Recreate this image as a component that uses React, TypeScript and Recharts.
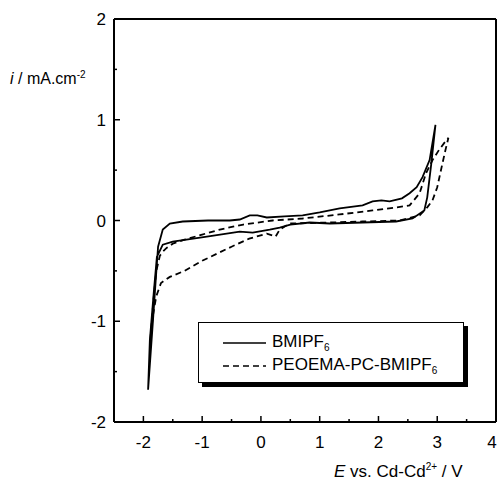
import React from "react";
import { LineChart, Line, XAxis, YAxis, Legend } from "recharts";

// E vs. Cd-Cd2+ (V) and current density (mA/cm2), in scan order
const bmiE = [
  -1.92, -1.84, -1.79, -1.75, -1.67, -1.55, -1.33, -0.9, -0.53, -0.36, -0.19,
  -0.06, 0.1, 0.4, 0.71, 1.0, 1.34, 1.73, 1.9, 2.05, 2.19, 2.4, 2.53, 2.65,
  2.75, 2.87, 2.97, 2.9, 2.83, 2.78, 2.58, 2.3, 1.73, 1.17, 0.83, 0.5, 0.32,
  0.15, -0.14, -0.36, -0.92, -1.5, -1.67, -1.77, -1.82, -1.89, -1.92,
];
const bmiI = [
  -1.68, -1.02, -0.59, -0.26, -0.09, -0.03, -0.01, 0.0, 0.0, 0.01, 0.05, 0.05,
  0.03, 0.04, 0.05, 0.08, 0.12, 0.15, 0.19, 0.2, 0.19, 0.22, 0.27, 0.33, 0.43,
  0.6, 0.95, 0.57, 0.23, 0.1, 0.02, -0.01, -0.02, -0.03, -0.02, -0.04, -0.07,
  -0.09, -0.12, -0.11, -0.16, -0.21, -0.24, -0.36, -0.69, -1.19, -1.68,
];

const peoE = [
  -1.88, -1.83, -1.78, -1.72, -1.67, -1.6, -1.5, -1.3, -1.0, -0.7, -0.3, 0.2,
  0.71, 1.34, 1.9, 2.3, 2.53, 2.7, 2.81, 2.92, 3.03, 3.12, 3.19, 3.14, 3.09,
  3.0, 2.92, 2.83, 2.7, 2.36, 1.73, 1.17, 0.49, 0.32, 0.25, 0.1, -0.2, -0.5,
  -1.0, -1.3, -1.55, -1.7, -1.78, -1.84, -1.88,
];
const peoI = [
  -1.18, -0.8, -0.5, -0.35, -0.31, -0.27, -0.23, -0.19, -0.14, -0.09, -0.04,
  0.0, 0.02, 0.06, 0.1, 0.13, 0.15, 0.27, 0.47, 0.6, 0.7, 0.77, 0.82, 0.7,
  0.57, 0.33, 0.2, 0.13, 0.05, 0.0, -0.01, -0.02, -0.03, -0.09, -0.16, -0.13,
  -0.18, -0.26, -0.4, -0.5, -0.56, -0.62, -0.75, -0.95, -1.18,
];

const xTicks = [-2, -1.5, -1, -0.5, 0, 0.5, 1, 1.5, 2, 2.5, 3, 3.5, 4];
const yTicks = [-2, -1.5, -1, -0.5, 0, 0.5, 1, 1.5, 2];

const FONT = '"Liberation Sans", Arial, sans-serif';

const bmiData = bmiE.map((x, k) => ({ x, y: bmiI[k] }));
const peoData = peoE.map((x, k) => ({ x, y: peoI[k] }));

const series = [
  { name: "BMIPF", sub: "6", dash: undefined as string | undefined },
  { name: "PEOEMA-PC-BMIPF", sub: "6", dash: "6 4" },
];

const tickLen = (v: number) => (Number.isInteger(v) ? 6 : 3);

const BottomTick = (props: any) => {
  const { x, y, payload } = props;
  const v = payload.value;
  // last label sits on the frame edge, nudge it in so it stays visible
  const tx = v === 4 ? x - 4 : x;
  return (
    <g>
      <line x1={x} x2={x} y1={y} y2={y - tickLen(v)} stroke="#000" strokeWidth={1.5} />
      {Number.isInteger(v) && (
        <text x={tx} y={y + 26} textAnchor="middle" fontFamily={FONT} fontSize={17} fill="#000">
          {v}
        </text>
      )}
    </g>
  );
};

const TopTick = (props: any) => {
  const { x, y, payload } = props;
  return <line x1={x} x2={x} y1={y} y2={y + tickLen(payload.value)} stroke="#000" strokeWidth={1.5} />;
};

const LeftTick = (props: any) => {
  const { x, y, payload } = props;
  const v = payload.value;
  return (
    <g>
      <line x1={x} x2={x + tickLen(v)} y1={y} y2={y} stroke="#000" strokeWidth={1.5} />
      {Number.isInteger(v) && (
        <text x={x - 8} y={y + 6} textAnchor="end" fontFamily={FONT} fontSize={17} fill="#000">
          {v}
        </text>
      )}
    </g>
  );
};

const RightTick = (props: any) => {
  const { x, y, payload } = props;
  return <line x1={x} x2={x - tickLen(payload.value)} y1={y} y2={y} stroke="#000" strokeWidth={1.5} />;
};

const renderLegend = () => (
  <div
    style={{
      width: 266,
      height: 61,
      boxSizing: "border-box",
      border: "1px solid #000",
      boxShadow: "4px 4px 0 #000",
      background: "#fff",
      paddingTop: 8,
      paddingLeft: 24,
      fontFamily: FONT,
      fontSize: 17,
      color: "#000",
    }}
  >
    {series.map((s) => (
      <div key={s.name} style={{ display: "flex", alignItems: "center", height: 23 }}>
        <svg width={43} height={4}>
          <line x1={0} x2={43} y1={2} y2={2} stroke="#000" strokeWidth={1.5} strokeDasharray={s.dash} />
        </svg>
        <span style={{ marginLeft: 6 }}>
          {s.name}
          <sub style={{ fontSize: 10 }}>{s.sub}</sub>
        </span>
      </div>
    ))}
  </div>
);

export default function App() {
  return (
    <div style={{ position: "absolute", left: 0, top: 0, width: 498, height: 483, background: "#fff" }}>
      <LineChart width={498} height={483} margin={{ top: 18, right: 1, bottom: 60, left: 113 }}>
        <XAxis
          dataKey="x"
          type="number"
          domain={[-2.5, 4]}
          ticks={xTicks}
          interval={0}
          allowDataOverflow
          height={1}
          tickSize={0}
          tickMargin={0}
          tick={BottomTick}
          axisLine={{ stroke: "#000", strokeWidth: 2 }}
        />
        <XAxis
          xAxisId="top"
          orientation="top"
          type="number"
          domain={[-2.5, 4]}
          ticks={xTicks}
          interval={0}
          height={1}
          tickSize={0}
          tickMargin={0}
          tick={TopTick}
          axisLine={{ stroke: "#000", strokeWidth: 2 }}
        />
        <YAxis
          type="number"
          domain={[-2, 2]}
          ticks={yTicks}
          interval={0}
          allowDataOverflow
          width={1}
          tickSize={0}
          tickMargin={0}
          tick={LeftTick}
          axisLine={{ stroke: "#000", strokeWidth: 2 }}
        />
        <YAxis
          yAxisId="right"
          orientation="right"
          type="number"
          domain={[-2, 2]}
          ticks={yTicks}
          interval={0}
          width={1}
          tickSize={0}
          tickMargin={0}
          tick={RightTick}
          axisLine={{ stroke: "#000", strokeWidth: 2 }}
        />
        <Legend
          layout="vertical"
          align="center"
          verticalAlign="middle"
          content={renderLegend}
          wrapperStyle={{ position: "absolute", left: 198, top: 322, width: "auto", height: "auto" }}
        />
        <Line
          data={bmiData}
          dataKey="y"
          type="linear"
          dot={false}
          stroke="#000"
          strokeWidth={1.8}
          isAnimationActive={false}
        />
        <Line
          data={peoData}
          dataKey="y"
          type="linear"
          dot={false}
          stroke="#000"
          strokeWidth={1.8}
          strokeDasharray="6 4"
          isAnimationActive={false}
        />
      </LineChart>
      <div
        style={{
          position: "absolute",
          left: 10,
          top: 66,
          fontFamily: FONT,
          fontSize: 16,
          lineHeight: "18px",
          whiteSpace: "nowrap",
        }}
      >
        <i>i</i> / mA.cm<sup style={{ fontSize: 10 }}>-2</sup>
      </div>
      <div
        style={{
          position: "absolute",
          left: 334,
          top: 458,
          fontFamily: FONT,
          fontSize: 17,
          lineHeight: "18px",
          whiteSpace: "nowrap",
        }}
      >
        <i>E</i> vs. Cd-Cd<sup style={{ fontSize: 10 }}>2+</sup> / V
      </div>
    </div>
  );
}
